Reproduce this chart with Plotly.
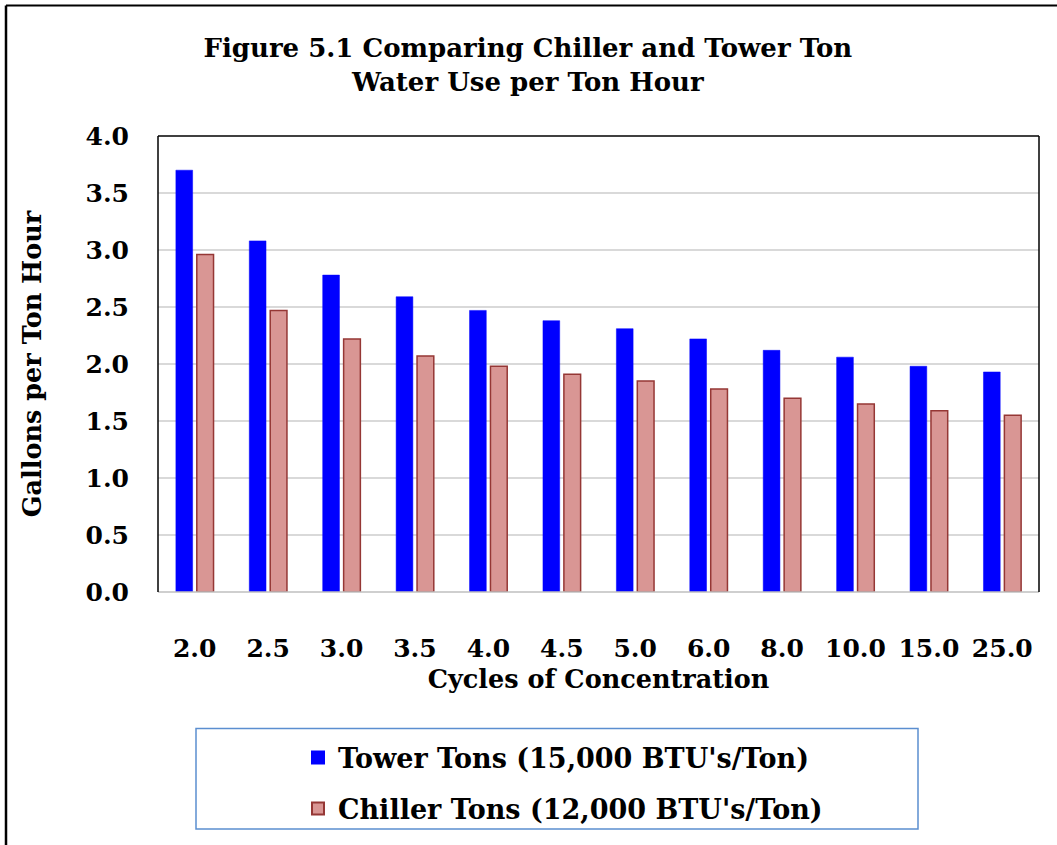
import plotly.graph_objects as go

categories = ["2.0", "2.5", "3.0", "3.5", "4.0", "4.5", "5.0", "6.0", "8.0", "10.0", "15.0", "25.0"]
tower = [3.70, 3.08, 2.78, 2.59, 2.47, 2.38, 2.31, 2.22, 2.12, 2.06, 1.98, 1.93]
chiller = [2.96, 2.47, 2.22, 2.07, 1.98, 1.91, 1.85, 1.78, 1.70, 1.65, 1.59, 1.55]
tower_name = "Tower Tons (15,000 BTU's/Ton)"
chiller_name = "Chiller Tons (12,000 BTU's/Ton)"
y_ticks = [0.0, 0.5, 1.0, 1.5, 2.0, 2.5, 3.0, 3.5, 4.0]

FONT = "DejaVu Serif, serif"

W, H = 1057, 845
L, R, T, B = 158, 18, 136, 251
pw, ph = W - L - R, H - T - B

def px(x):
    return (x - L) / pw

def py(y):
    return (H - B - y) / ph

fig = go.Figure()
fig.add_trace(go.Bar(x=categories, y=tower, name=f"<b>{tower_name}</b>", legendgroup="t",
                     marker=dict(color="#0000FF", line=dict(color="#0000FF", width=0.5))))
fig.add_trace(go.Bar(x=categories, y=chiller, name=f"<b>{chiller_name}</b>", legendgroup="c",
                     marker=dict(color="#D99694", line=dict(color="#953735", width=1.5))))

fig.update_layout(
    width=W, height=H,
    margin=dict(l=L, r=R, t=T, b=B),
    paper_bgcolor="white", plot_bgcolor="white",
    barmode="group", bargap=0.43, bargroupgap=0.2,
    font=dict(family=FONT, color="black"),
    title=dict(text="<b>Figure 5.1 Comparing Chiller and Tower Ton<br>Water Use per Ton Hour</b>",
               x=px(598), xanchor="center", y=1 - 57 / H, yanchor="middle",
               font=dict(size=26, family=FONT)),
    xaxis=dict(
        tickvals=categories, ticktext=[f"<b>{c}</b>" for c in categories],
        tickfont=dict(size=25, family=FONT), ticklabelstandoff=39,
        ticks="", showgrid=False, showline=False,
        title=dict(text="<b>Cycles of Concentration</b>", font=dict(size=25.5, family=FONT), standoff=8),
    ),
    yaxis=dict(
        range=[0, 4.0], tickvals=y_ticks, ticktext=[f"<b>{v:.1f}</b>" for v in y_ticks],
        tickfont=dict(size=25, family=FONT), ticklabelstandoff=28,
        showgrid=True, gridcolor="#D9D9D9", gridwidth=1.5,
        zeroline=False, showline=False, ticks="",
        title=dict(text="<b>Gallons per Ton Hour</b>", font=dict(size=25.5, family=FONT), standoff=36),
    ),
    legend=dict(x=px(298), xanchor="left", y=py(736), yanchor="top",
                font=dict(size=27, family=FONT), bgcolor="rgba(0,0,0,0)",
                borderwidth=0, tracegroupgap=13, itemsizing="constant"),
    showlegend=True,
)

shapes = [
    dict(type="line", xref="paper", yref="paper", x0=0, x1=1, y0=0, y1=0, line=dict(color="#BFBFBF", width=1.5)),
    dict(type="line", xref="paper", yref="paper", x0=0, x1=0, y0=0, y1=1, line=dict(color="black", width=1.5)),
    dict(type="line", xref="paper", yref="paper", x0=0, x1=1, y0=1, y1=1, line=dict(color="black", width=1.5)),
    dict(type="line", xref="paper", yref="paper", x0=1, x1=1, y0=0, y1=1, line=dict(color="black", width=1.5)),
    dict(type="rect", xref="paper", yref="paper", x0=px(196), x1=px(918), y0=py(832), y1=py(731),
         line=dict(color="#5B8ED0", width=1.5), fillcolor="rgba(0,0,0,0)"),
    dict(type="line", xref="paper", yref="paper", x0=px(6), x1=px(6), y0=py(H + 5), y1=py(5),
         line=dict(color="black", width=2.5)),
    dict(type="line", xref="paper", yref="paper", x0=px(6), x1=px(W + 5), y0=py(5), y1=py(5),
         line=dict(color="black", width=2)),
]
fig.update_layout(shapes=shapes)

fig.write_html("out.html", config={"displayModeBar": False},
               post_script="document.body.style.margin='0';document.body.style.padding='0';")
